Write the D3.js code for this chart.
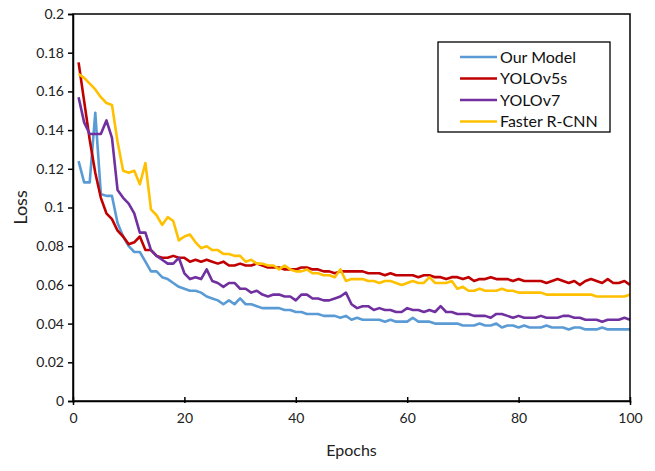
<!DOCTYPE html>
<html><head><meta charset="utf-8">
<script src="https://cdn.jsdelivr.net/npm/d3@7"></script>
<style>body{margin:0;background:#fff}svg{display:block;font-family:Lato,"Open Sans",sans-serif}</style>
</head><body><svg id="c" width="655" height="471"></svg>
<script>
const epochs = d3.range(1, 101);
const seriesNames = ["Our Model", "YOLOv5s", "YOLOv7", "Faster R-CNN"];
const ourModel = [0.124,0.113,0.113,0.149,0.107,0.106,0.106,0.092,0.085,0.080,0.077,0.077,0.072,0.067,0.067,0.064,0.063,0.061,0.059,0.058,0.057,0.057,0.056,0.054,0.053,0.052,0.050,0.052,0.050,0.053,0.050,0.050,0.049,0.048,0.048,0.048,0.048,0.047,0.047,0.046,0.046,0.045,0.045,0.045,0.044,0.044,0.044,0.043,0.044,0.042,0.043,0.042,0.042,0.042,0.042,0.041,0.042,0.041,0.041,0.041,0.043,0.041,0.041,0.041,0.040,0.040,0.040,0.040,0.040,0.039,0.039,0.039,0.040,0.039,0.039,0.040,0.038,0.039,0.039,0.038,0.039,0.038,0.038,0.038,0.039,0.038,0.038,0.038,0.037,0.038,0.038,0.037,0.037,0.037,0.038,0.037,0.037,0.037,0.037,0.037];
const yolov5s = [0.175,0.155,0.135,0.118,0.105,0.097,0.094,0.088,0.085,0.081,0.082,0.085,0.078,0.078,0.075,0.074,0.074,0.075,0.074,0.074,0.072,0.073,0.072,0.073,0.072,0.071,0.072,0.070,0.070,0.071,0.070,0.070,0.071,0.070,0.069,0.069,0.069,0.068,0.068,0.068,0.069,0.069,0.068,0.068,0.067,0.067,0.066,0.067,0.067,0.067,0.067,0.067,0.066,0.066,0.066,0.065,0.066,0.065,0.065,0.065,0.065,0.064,0.065,0.065,0.064,0.064,0.063,0.064,0.064,0.063,0.064,0.062,0.063,0.063,0.064,0.063,0.063,0.063,0.062,0.063,0.062,0.062,0.062,0.062,0.061,0.062,0.063,0.062,0.061,0.062,0.060,0.062,0.063,0.062,0.061,0.063,0.061,0.061,0.062,0.060];
const yolov7 = [0.157,0.144,0.138,0.138,0.138,0.145,0.136,0.109,0.105,0.102,0.097,0.087,0.087,0.078,0.075,0.073,0.071,0.071,0.074,0.066,0.063,0.064,0.063,0.068,0.062,0.061,0.059,0.061,0.061,0.058,0.058,0.056,0.057,0.055,0.054,0.055,0.055,0.054,0.054,0.052,0.055,0.055,0.053,0.053,0.052,0.052,0.053,0.054,0.056,0.050,0.048,0.049,0.049,0.047,0.048,0.047,0.047,0.046,0.046,0.048,0.047,0.047,0.046,0.047,0.046,0.049,0.046,0.046,0.045,0.045,0.045,0.044,0.044,0.044,0.043,0.045,0.045,0.044,0.043,0.044,0.043,0.043,0.043,0.044,0.043,0.043,0.043,0.044,0.044,0.043,0.043,0.042,0.042,0.042,0.041,0.042,0.042,0.042,0.043,0.042];
const fasterRcnn = [0.169,0.167,0.164,0.161,0.157,0.154,0.153,0.134,0.119,0.118,0.119,0.112,0.123,0.099,0.096,0.091,0.095,0.093,0.083,0.085,0.086,0.082,0.079,0.080,0.078,0.078,0.076,0.076,0.075,0.075,0.072,0.073,0.071,0.071,0.070,0.070,0.068,0.070,0.068,0.067,0.067,0.068,0.066,0.066,0.065,0.065,0.064,0.068,0.062,0.063,0.063,0.063,0.062,0.062,0.061,0.062,0.062,0.061,0.060,0.061,0.062,0.061,0.061,0.064,0.061,0.061,0.061,0.062,0.058,0.059,0.057,0.057,0.058,0.057,0.057,0.057,0.058,0.057,0.057,0.056,0.056,0.056,0.056,0.056,0.055,0.055,0.055,0.055,0.055,0.055,0.055,0.055,0.055,0.054,0.054,0.054,0.054,0.054,0.054,0.055];
const xTicks = [0, 20, 40, 60, 80, 100];
const yTicks = [0, 0.02, 0.04, 0.06, 0.08, 0.1, 0.12, 0.14, 0.16, 0.18, 0.2];
const colors = ["#5B9BD5", "#C00000", "#7030A0", "#FFC000"];
const allSeries = [ourModel, yolov5s, yolov7, fasterRcnn];

const svg = d3.select("#c");
const L = 73, R = 630, T = 14, B = 401;
const x = d3.scaleLinear().domain([0, 100]).range([L, R]);
const y = d3.scaleLinear().domain([0, 0.2]).range([B, T]);

// lines
const line = d3.line().x((d, i) => x(epochs[i])).y(d => y(d));
allSeries.forEach((s, k) => {
  svg.append("path").datum(s).attr("fill", "none").attr("stroke", colors[k])
    .attr("stroke-width", 2.6).attr("stroke-linejoin", "round").attr("d", line);
});

// frame
svg.append("rect").attr("x", L).attr("y", T).attr("width", R - L).attr("height", B - T)
  .attr("fill", "none").attr("stroke", "#000").attr("stroke-width", 1.5);

// axes
const fmt = d => d === 0 ? "0" : String(+d.toFixed(2));
const ya = svg.append("g").attr("transform", `translate(${L},0)`)
  .call(d3.axisLeft(y).tickValues(yTicks).tickFormat(fmt).tickSize(5).tickPadding(4));
const xa = svg.append("g").attr("transform", `translate(0,${B})`)
  .call(d3.axisBottom(x).tickValues(xTicks).tickFormat(d => d).tickSize(4).tickPadding(8));
[ya, xa].forEach(g => {
  g.select(".domain").attr("stroke-width", 1.5);
  g.selectAll(".tick line").attr("stroke-width", 1.5);
  g.selectAll("text").attr("font-size", 14).attr("fill", "#222").attr("font-family", 'Lato,"Open Sans",sans-serif');
});
xa.selectAll(".tick line").attr("y1", -4).attr("y2", 2);

// axis titles
svg.append("text").attr("x", (L + R) / 2).attr("y", 456).attr("text-anchor", "middle")
  .attr("font-size", 16).attr("fill", "#222").text("Epochs");
svg.append("text").attr("transform", `translate(27,${(T + B) / 2}) rotate(-90)`).attr("text-anchor", "middle")
  .attr("font-size", 18).attr("fill", "#222").text("Loss");

// legend
const lg = svg.append("g");
lg.append("rect").attr("x", 438).attr("y", 42).attr("width", 172).attr("height", 90)
  .attr("fill", "#fff").attr("stroke", "#000").attr("stroke-width", 1.3);
seriesNames.forEach((n, k) => {
  const yy = 57 + k * 21.5;
  lg.append("line").attr("x1", 460).attr("x2", 497).attr("y1", yy).attr("y2", yy)
    .attr("stroke", colors[k]).attr("stroke-width", 2.6);
  lg.append("text").attr("x", 500).attr("y", yy + 5.5).attr("font-size", 16).attr("fill", "#111").text(n);
});
</script></body></html>
